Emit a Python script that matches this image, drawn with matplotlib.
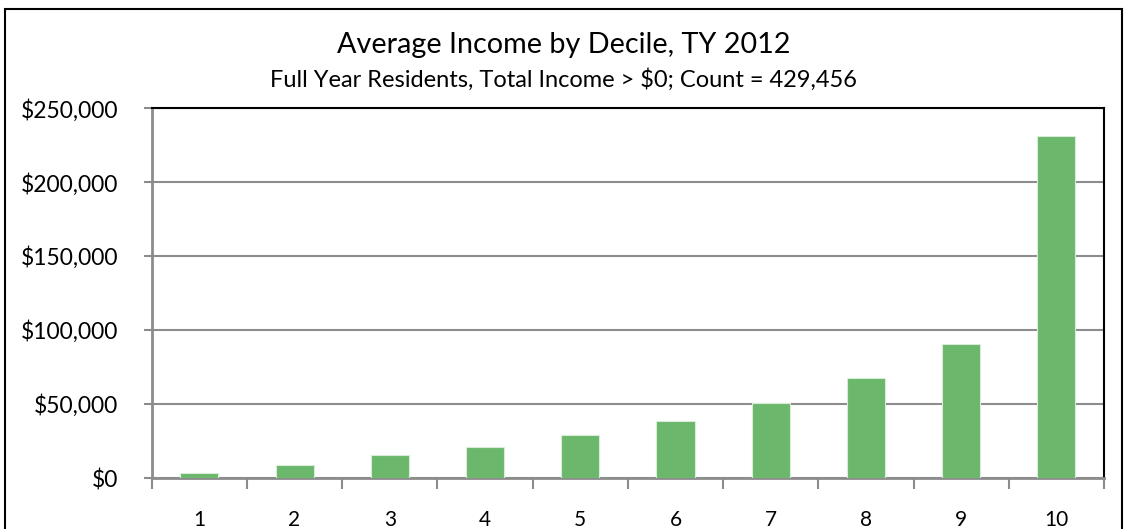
import numpy as np
import matplotlib.pyplot as plt
from matplotlib.patches import Rectangle
from matplotlib.ticker import FuncFormatter

plt.rcParams['font.family'] = ['Lato', 'DejaVu Sans']

# data
deciles = ['1', '2', '3', '4', '5', '6', '7', '8', '9', '10']
avg_income = [3200, 8600, 15300, 20700, 28800, 38300, 50500, 67800, 90500, 230900]

fig = plt.figure(figsize=(11.28, 5.29), dpi=100)
ax = fig.add_axes([0.1345, 0.0964, 0.8442, 0.6994])

x = np.arange(len(deciles))
ax.bar(x, avg_income, width=0.4, color='#6bb76b', edgecolor='#d8ecd8', linewidth=0.8, zorder=3)

ax.set_xlim(-0.5, len(deciles) - 0.5)
ax.set_ylim(0, 250000)
ax.set_yticks(np.arange(0, 250001, 50000))
ax.yaxis.set_major_formatter(FuncFormatter(lambda v, p: '${:,.0f}'.format(v)))
ax.grid(axis='y', color='#8c8c8c', linewidth=1.5, zorder=0)

ax.set_xticks(x)
ax.set_xticklabels(deciles)
ax.set_xticks(np.arange(-0.5, len(deciles)), minor=True)
ax.tick_params(axis='x', which='major', length=0, pad=23, labelsize=15)
ax.tick_params(axis='x', which='minor', length=8, width=1.5, color='#8c8c8c', direction='out')
ax.tick_params(axis='y', which='major', length=6, width=1.5, color='#8c8c8c', pad=18, labelsize=16.5)

for side in ['left', 'bottom']:
    ax.spines[side].set_color('#8c8c8c')
    ax.spines[side].set_linewidth(2)
for side in ['top', 'right']:
    ax.spines[side].set_color('black')
    ax.spines[side].set_linewidth(1.5)

fig.text(0.5, 0.915, 'Average Income by Decile, TY 2012', ha='center', va='center', fontsize=20.7)
fig.text(0.5, 0.85, 'Full Year Residents, Total Income > $0; Count = 429,456', ha='center', va='center', fontsize=17)

# outer chart frame, bottom runs off the image
fig.patches.append(Rectangle((5 / 1128, -0.05), 1117 / 1128, 1 - 9 / 529 + 0.05, transform=fig.transFigure,
                             fill=False, edgecolor='black', linewidth=1.5))

fig.savefig('out.png', dpi=100)
